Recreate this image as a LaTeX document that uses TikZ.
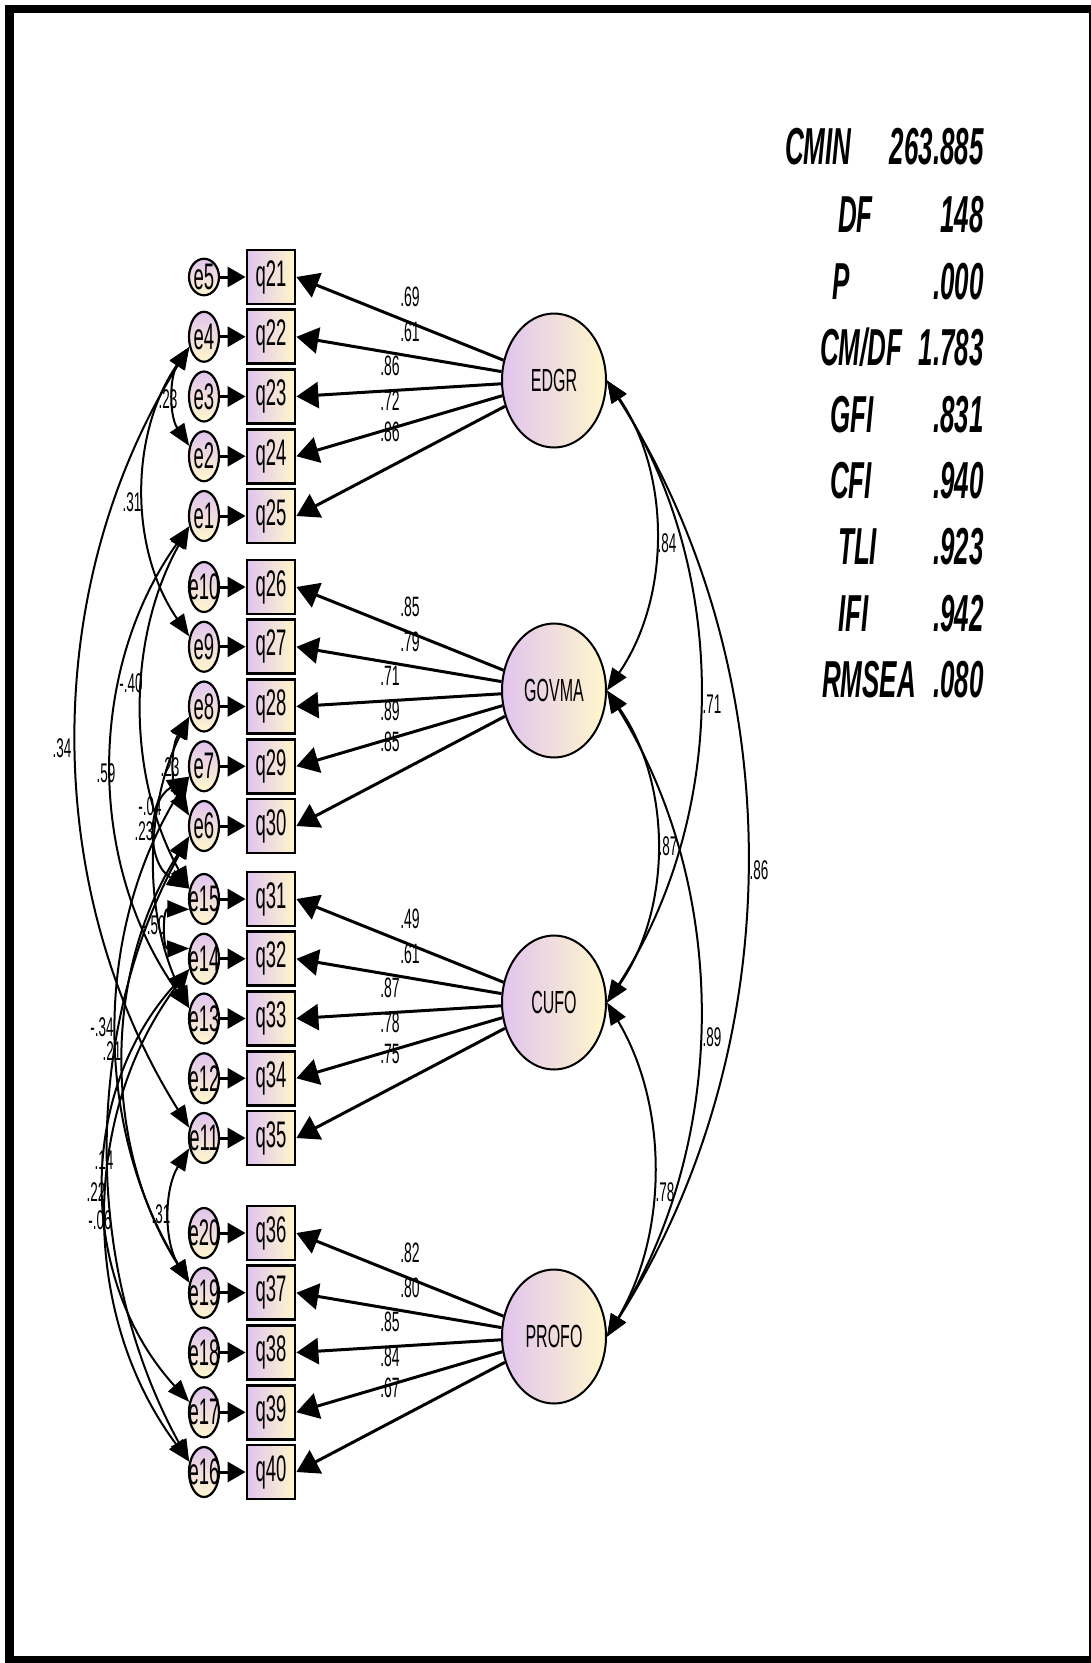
\documentclass[tikz,border=0pt]{standalone}
\usepackage{fontspec}
\setmainfont{Liberation Sans}
\newfontfamily\nf{Liberation Sans}[FakeStretch=0.5]
\usetikzlibrary{arrows.meta,shapes.geometric,calc}
\definecolor{lav}{HTML}{E0C4EE}
\definecolor{cream}{HTML}{FFF7CC}
\newcommand\zw[1]{\makebox[0pt]{#1}}
% covariance arc on the left (bulging left), #1 upper node, #2 lower node, #3 sagitta
\newcommand\covL[3]{\draw[cov] let \p1=(#1.215), \p2=(#2.145), \n1={abs(\y1-\y2)}, \n2={2*atan(2*#3/\n1)}, \n3={4*#3/3}, \n4={\n3*cot(\n2)} in (#1.215) .. controls +(-\n3,-\n4) and +(-\n3,\n4) .. (#2.145);}
% covariance arc on the right (bulging right)
\newcommand\covR[3]{\draw[cov] let \p1=(#1.east), \p2=(#2.east), \n1={abs(\y1-\y2)}, \n2={2*atan(2*#3/\n1)}, \n3={4*#3/3}, \n4={\n3*cot(\n2)} in (#1.east) .. controls +(\n3,-\n4) and +(\n3,\n4) .. (#2.east);}
\begin{document}
\begin{tikzpicture}[x=1pt,y=1pt,
 obs/.style={draw=black, line width=2.8pt, rectangle, minimum width=48pt, minimum height=54pt, inner sep=0pt, left color=lav, right color=cream, font=\nf\fontsize{37}{37}\selectfont},
 err/.style={draw=black, line width=2.2pt, ellipse, minimum width=30pt, minimum height=50pt, inner sep=0pt, top color=lav, bottom color=cream, font=\nf\fontsize{37}{37}\selectfont},
 lat/.style={draw=black, line width=2pt, ellipse, minimum width=104pt, minimum height=134pt, inner sep=0pt, left color=lav, right color=cream, font=\nf\fontsize{32}{32}\selectfont},
 load/.style={line width=3pt, -{Triangle[length=22pt,width=26pt]}},
 errarr/.style={line width=3pt, -{Triangle[length=18pt,width=20pt]}},
 cov/.style={line width=2pt, {Triangle[length=22pt,width=17pt]}-{Triangle[length=22pt,width=17pt]}},
 lab/.style={inner sep=0pt, font=\nf\fontsize{27}{27}\selectfont},
 llab/.style={inner sep=0pt, font=\nf\fontsize{28}{28}\selectfont},
 stat/.style={inner sep=0pt, font=\nf\bfseries\itshape\fontsize{52}{52}\selectfont}]
\useasboundingbox (0,0) rectangle (1091,-1663);
% frame
\fill[black] (5,-5) rectangle (1091,-1663);
\fill[white] (14,-13) rectangle (1089,-1656);

% observed variables and errors
\foreach \e/\q/\y/\h in {e5/q21/277/36, e4/q22/336.75/50, e3/q23/396.5/50, e2/q24/456.25/50, e1/q25/516/50,
  e10/q26/587/50, e9/q27/646.75/50, e8/q28/706.5/50, e7/q29/766.25/50, e6/q30/826/50,
  e15/q31/899/50, e14/q32/958.75/50, e13/q33/1018.5/50, e12/q34/1078.25/50, e11/q35/1138/50,
  e20/q36/1233/50, e19/q37/1292.75/50, e18/q38/1352.5/50, e17/q39/1412.25/50, e16/q40/1472/50}{
  \node[err, minimum height=\h pt] (\e) at (204,-\y) {\zw{\e}};
  \node[obs] (\q) at (271,-\y) {\q};
  \draw[errarr] (\e) -- (\q);
}

% latent variables
\node[lat] (EDGR) at (554,-380.5) {EDGR};
\node[lat] (GOVMA) at (554,-690.5) {GOVMA};
\node[lat] (CUFO) at (554,-1002.5) {CUFO};
\node[lat] (PROFO) at (554,-1336.5) {PROFO};

\foreach \q in {q21,q22,q23,q24,q25} \draw[load] (EDGR) -- (\q.east);
\foreach \q in {q26,q27,q28,q29,q30} \draw[load] (GOVMA) -- (\q.east);
\foreach \q in {q31,q32,q33,q34,q35} \draw[load] (CUFO) -- (\q.east);
\foreach \q in {q36,q37,q38,q39,q40} \draw[load] (PROFO) -- (\q.east);

% loading labels
\foreach \L/\yc/\a/\b/\c/\d/\f in {EDGR/380.5/.69/.61/.86/.72/.86, GOVMA/690.5/.85/.79/.71/.89/.85,
  CUFO/1002.5/.49/.61/.87/.78/.75, PROFO/1336.5/.82/.80/.85/.84/.67}{
  \node[llab] (\L la) at (410,{-\yc+83.5}) {\a};
  \node[llab] (\L lb) at (410,{-\yc+48.5}) {\b};
  \node[llab] (\L lc) at (390,{-\yc+15}) {\c};
  \node[llab] (\L ld) at (390,{-\yc-20}) {\d};
  \node[llab] (\L le) at (390,{-\yc-51.5}) {\f};
}

% covariances between latent variables
\covR{EDGR}{GOVMA}{48}
\covR{EDGR}{CUFO}{92}
\covR{EDGR}{PROFO}{139}
\covR{GOVMA}{CUFO}{49}
\covR{GOVMA}{PROFO}{92}
\covR{CUFO}{PROFO}{46}
\node[lab] (r1) at (667,-543) {.84};
\node[lab] (r2) at (712,-704) {.71};
\node[lab] (r3) at (759,-870) {.86};
\node[lab] (r4) at (668,-846) {.87};
\node[lab] (r5) at (712,-1037) {.89};
\node[lab] (r6) at (665,-1192) {.78};

% covariances between errors
\covL{e4}{e2}{15}
\covL{e4}{e9}{45}
\covL{e4}{e11}{112}
\covL{e1}{e13}{77}
\covL{e1}{e15}{47}
\covL{e8}{e6}{14}
\covL{e8}{e13}{34}
\covL{e7}{e15}{32}
\covL{e15}{e14}{20}
\covL{e7}{e19}{72}
\covL{e6}{e19}{65}
\covL{e6}{e16}{80}
\covL{e14}{e17}{84}
\covL{e14}{e16}{82}
\covL{e11}{e19}{19}

\node[lab] (c1) at (168,-399) {.23};
\node[lab] (c2) at (132,-502) {.31};
\node[lab] (c3) at (62,-748) {.34};
\node[lab] (c4) at (131,-683) {-.40};
\node[lab] (c5) at (106,-773) {.59};
\node[lab] (c6) at (170,-767) {.23};
\node[lab] (c7) at (150,-806) {-.04};
\node[lab] (c8) at (144,-831) {.23};
\node[lab] (c9) at (154,-925) {-.50};
\node[lab] (c10) at (102,-1027) {-.34};
\node[lab] (c11) at (112,-1051) {.21};
\node[lab] (c12) at (104,-1160) {.14};
\node[lab] (c13) at (96,-1192) {.22};
\node[lab] (c14) at (100,-1220) {-.06};
\node[lab] (c15) at (161,-1214) {.31};

% fit statistics
\node[stat, anchor=base west] (s1) at (785,-164.5) {CMIN};
\node[stat, anchor=base east] (v1) at (984,-164.5) {263.885};
\node[stat, anchor=base west] (s2) at (838,-232.5) {DF};
\node[stat, anchor=base east] (v2) at (984,-232.5) {148};
\node[stat, anchor=base west] (s3) at (832,-299.5) {P};
\node[stat, anchor=base east] (v3) at (984,-299.5) {.000};
\node[stat, anchor=base west] (s4) at (820,-365.5) {CM/DF};
\node[stat, anchor=base east] (v4) at (984,-365.5) {1.783};
\node[stat, anchor=base west] (s5) at (830,-432.5) {GFI};
\node[stat, anchor=base east] (v5) at (984,-432.5) {.831};
\node[stat, anchor=base west] (s6) at (830,-498.5) {CFI};
\node[stat, anchor=base east] (v6) at (984,-498.5) {.940};
\node[stat, anchor=base west] (s7) at (838,-564.5) {TLI};
\node[stat, anchor=base east] (v7) at (984,-564.5) {.923};
\node[stat, anchor=base west] (s8) at (838,-631.5) {IFI};
\node[stat, anchor=base east] (v8) at (984,-631.5) {.942};
\node[stat, anchor=base west] (s9) at (822,-697.5) {RMSEA};
\node[stat, anchor=base east] (v9) at (984,-697.5) {.080};
\end{tikzpicture}
\end{document}
